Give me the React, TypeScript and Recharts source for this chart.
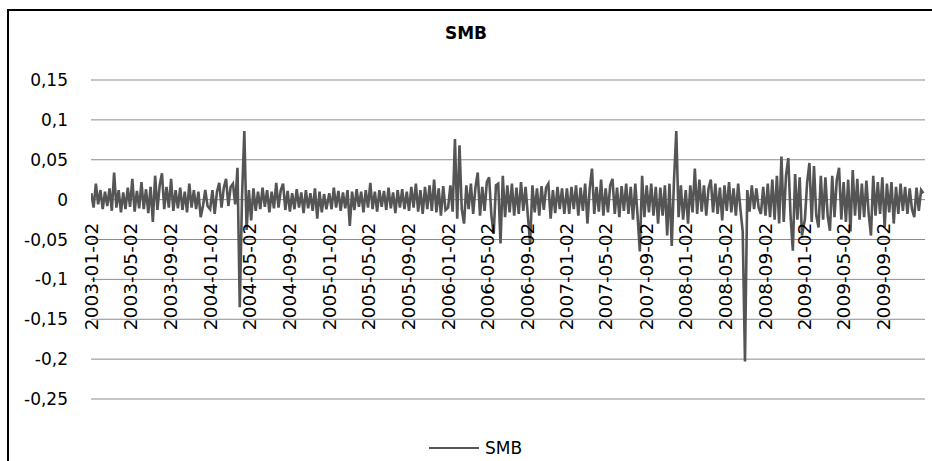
import React from 'react'
import { LineChart, Line, XAxis, YAxis, CartesianGrid, Legend } from 'recharts'

// weekly SMB readings, one list per year (first point = 2 January)
const smb2003 = [
	0.008, -0.01, 0.02, -0.006, 0.012, -0.012, 0.01, -0.008, 0.014, -0.014,
	0.034, -0.01, 0.012, -0.016, 0.009, -0.012, 0.015, -0.009, 0.026, -0.015,
	0.011, -0.011, 0.022, -0.012, 0.013, -0.017, 0.016, -0.028, 0.03, -0.013,
	0.018, 0.033, -0.012, 0.016, -0.01, 0.026, -0.014, 0.012, -0.011, 0.015,
	-0.013, 0.01, -0.016, 0.02, -0.01, 0.012, -0.012, 0.01, -0.022, -0.008,
	0.012, -0.008
]
const smb2004 = [
	-0.012, 0.012, -0.018, 0.01, 0.021, -0.01, 0.015, 0.026, -0.008, 0.016,
	0.02, -0.006, 0.04, -0.135, 0.004, 0.086, -0.038, 0.012, -0.026, 0.014,
	-0.014, 0.01, -0.012, 0.015, -0.009, 0.012, -0.016, 0.01, -0.011, 0.021,
	-0.01, 0.012, 0.02, -0.013, 0.011, -0.015, 0.008, -0.012, 0.013, -0.01,
	0.009, -0.017, 0.012, -0.011, 0.008, -0.014, 0.014, -0.024, 0.01, -0.016,
	0.007, -0.012
]
const smb2005 = [
	0.008, -0.012, 0.015, -0.01, 0.011, -0.014, 0.009, -0.011, 0.012, -0.033,
	0.01, -0.013, 0.013, -0.009, 0.01, -0.016, 0.012, -0.01, 0.021, -0.012,
	0.01, -0.015, 0.012, -0.009, 0.011, -0.013, 0.015, -0.011, 0.009, -0.017,
	0.012, -0.01, 0.013, -0.012, 0.01, -0.014, 0.016, -0.01, 0.02, -0.015,
	0.012, -0.018, 0.016, -0.012, 0.018, -0.014, 0.025, -0.016, 0.014, -0.02,
	0.017, -0.013
]
const smb2006 = [
	-0.01, 0.018, -0.015, 0.076, -0.024, 0.068, -0.012, -0.03, 0.018, -0.012,
	0.02, -0.018, 0.015, 0.034, -0.02, 0.016, -0.014, 0.022, 0.028, -0.02,
	-0.043, 0.018, 0.02, -0.055, 0.03, -0.022, 0.018, -0.016, 0.02, -0.02,
	0.015, -0.018, 0.022, -0.014, 0.016, -0.02, -0.055, 0.018, -0.016, 0.014,
	-0.02, 0.017, -0.013, 0.015, 0.02, -0.024, 0.012, -0.017, 0.016, -0.012,
	0.014, -0.018
]
const smb2007 = [
	0.014, -0.018, 0.016, -0.012, 0.018, -0.02, 0.015, -0.014, 0.02, -0.03,
	0.014, 0.039, -0.018, 0.016, -0.015, 0.025, -0.02, 0.014, -0.016, 0.018,
	0.026, -0.018, 0.015, -0.022, 0.017, -0.014, 0.02, -0.018, 0.016, -0.025,
	0.02, -0.02, -0.065, 0.03, -0.022, 0.018, -0.016, 0.02, -0.02, 0.016,
	-0.03, 0.015, -0.02, 0.018, -0.045, 0.02, -0.058, 0.025, 0.086, -0.022,
	0.018, -0.025
]
const smb2008 = [
	0.012, -0.03, 0.018, -0.016, 0.039, -0.018, 0.025, -0.015, 0.018, -0.02,
	0.014, 0.025, -0.016, 0.02, -0.018, 0.015, -0.026, 0.018, -0.014, 0.022,
	-0.016, 0.014, -0.02, 0.02, -0.012, -0.04, -0.203, 0.012, -0.015, 0.018,
	-0.012, 0.014, -0.01, -0.018, 0.016, -0.02, 0.02, -0.022, 0.025, -0.025,
	0.03, -0.03, 0.054, -0.028, 0.03, 0.052, -0.02, -0.064, 0.032, -0.025,
	0.028, -0.045
]
const smb2009 = [
	-0.025, 0.022, 0.046, -0.028, 0.042, -0.02, -0.035, 0.03, -0.025, 0.028,
	-0.02, -0.039, 0.03, -0.022, 0.025, 0.04, -0.025, 0.022, -0.028, 0.025,
	-0.04, 0.037, -0.02, 0.026, -0.025, 0.02, -0.022, 0.024, -0.018, -0.045,
	0.03, -0.02, 0.022, -0.018, 0.028, -0.035, 0.02, -0.016, 0.022, -0.03,
	0.016, -0.018, 0.02, -0.014, 0.016, -0.018, 0.014, -0.012, -0.022, 0.015,
	-0.014, 0.012, 0.008
]

const years = [2003, 2004, 2005, 2006, 2007, 2008, 2009]
const yearValues = [smb2003, smb2004, smb2005, smb2006, smb2007, smb2008, smb2009]

const dateLabels = [
	'2003-01-02', '2003-05-02', '2003-09-02', '2004-01-02', '2004-05-02', '2004-09-02',
	'2005-01-02', '2005-05-02', '2005-09-02', '2006-01-02', '2006-05-02', '2006-09-02',
	'2007-01-02', '2007-05-02', '2007-09-02', '2008-01-02', '2008-05-02', '2008-09-02',
	'2009-01-02', '2009-05-02', '2009-09-02'
]
const yTicks = [-0.25, -0.2, -0.15, -0.1, -0.05, 0, 0.05, 0.1, 0.15]

const toDay = (s: string) => {
	const [y, m, d] = s.split('-').map(Number)
	return Date.UTC(y, m - 1, d) / 86400000
}
const fromDay = (n: number) => new Date(Math.round(n) * 86400000).toISOString().slice(0, 10)

const data = years.flatMap((yr, k) =>
	yearValues[k].map((v, i) => ({ day: toDay(`${yr}-01-02`) + 7 * i, SMB: v }))
)

const W = 932
const H = 461
const PLOT_TOP = 80
const PLOT_BOTTOM = 399
const X_AXIS_H = 30
const Y_MIN = -0.25
const Y_MAX = 0.15
const FONT = '"DejaVu Sans", sans-serif'

const zeroY = PLOT_TOP + ((Y_MAX - 0) / (Y_MAX - Y_MIN)) * (PLOT_BOTTOM - PLOT_TOP)

const fmt = (v: number) => String(Number(v.toFixed(2))).replace('.', ',')

const DateTick = (props: any) => {
	const { x, payload } = props
	const top = zeroY + 23
	return (
		<text
			x={x}
			y={top}
			transform={`rotate(-90, ${x}, ${top})`}
			textAnchor="end"
			dominantBaseline="central"
			fontSize={18.5}
			fontFamily={FONT}
			fill="#000"
		>
			{fromDay(payload.value)}
		</text>
	)
}

const LegendContent = (props: any) => (
	<div style={{ display: 'flex', justifyContent: 'center', alignItems: 'center', width: 950, fontFamily: FONT, fontSize: 17 }}>
		{(props.payload || []).map((p: any) => (
			<div key={p.value} style={{ display: 'flex', alignItems: 'center' }}>
				<svg width={52} height={10}>
					<line x1={1} y1={5} x2={51} y2={5} stroke={p.color} strokeWidth={2} />
				</svg>
				<span style={{ marginLeft: 5, color: '#000' }}>{p.value}</span>
			</div>
		))}
	</div>
)

export default function App() {
	return (
		<div style={{ position: 'fixed', left: 0, top: 0, width: W, height: H, overflow: 'hidden', background: '#fff' }}>
			<div style={{ position: 'absolute', left: 7, top: 9, width: 960, height: 480, border: '2px solid #000' }} />
			<div
				style={{
					position: 'absolute', left: 0, top: 24, width: W, textAlign: 'center',
					fontFamily: FONT, fontWeight: 'bold', fontSize: 17, lineHeight: '18px'
				}}
			>
				SMB
			</div>
			<div style={{ position: 'absolute', left: 0, top: 0 }}>
				<LineChart
					width={W}
					height={H}
					data={data}
					margin={{ top: PLOT_TOP, right: W - 925, bottom: H - PLOT_BOTTOM - X_AXIS_H, left: 31 }}
				>
					<CartesianGrid vertical={false} stroke="#8c8c8c" />
					<XAxis
						dataKey="day"
						type="number"
						domain={[toDay('2003-01-01'), toDay('2010-01-06')]}
						ticks={dateLabels.map(toDay)}
						interval={0}
						tick={DateTick}
						axisLine={false}
						tickLine={false}
						height={X_AXIS_H}
						allowDataOverflow
					/>
					<YAxis
						domain={[Y_MIN, Y_MAX]}
						ticks={yTicks}
						interval={0}
						tickFormatter={fmt}
						axisLine={false}
						tickLine={false}
						tickSize={0}
						tickMargin={23}
						width={60}
						tick={{ fontSize: 17, fontFamily: FONT, fill: '#000' }}
					/>
					<Legend
						verticalAlign="middle"
						align="center"
						content={<LegendContent />}
						wrapperStyle={{ top: 438, left: 0, width: 950 }}
					/>
					<Line
						type="linear"
						dataKey="SMB"
						name="SMB"
						stroke="#555555"
						strokeWidth={2.6}
						dot={false}
						isAnimationActive={false}
					/>
				</LineChart>
			</div>
		</div>
	)
}
